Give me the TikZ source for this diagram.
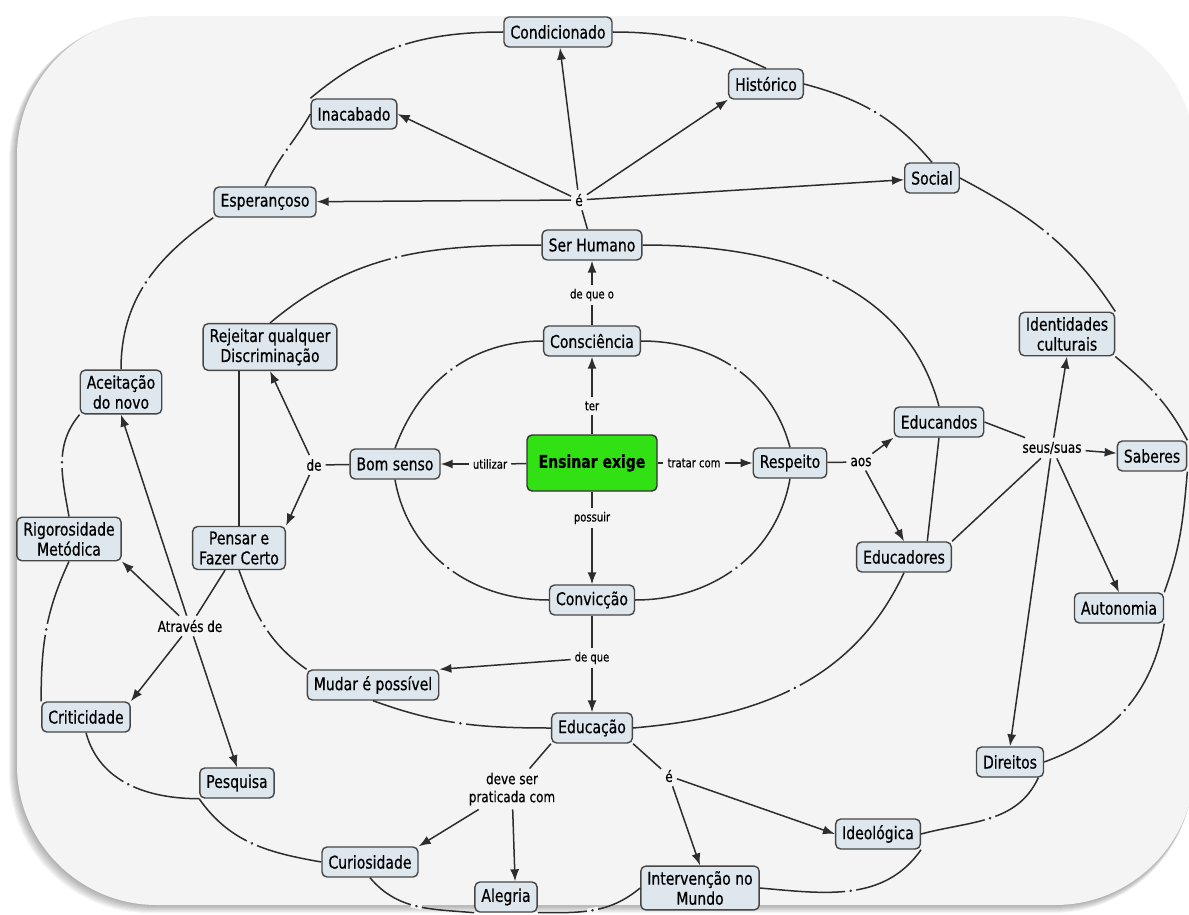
\documentclass[tikz,border=0pt]{standalone}
\usepackage{fontspec}
\setmainfont{DejaVu Sans}[FakeStretch=0.8,FakeBold=0.6]
\usetikzlibrary{arrows.meta}

\definecolor{panelbg}{RGB}{244,244,244}
\definecolor{conceptfill}{RGB}{221,231,237}
\definecolor{conceptline}{RGB}{70,70,70}
\definecolor{linecol}{RGB}{45,45,45}
\definecolor{mainfill}{RGB}{50,225,20}

\tikzset{
  concept/.style={draw=conceptline, fill=conceptfill, rounded corners=5pt, line width=1.4pt,
    inner xsep=6.5pt, inner ysep=5pt, minimum height=30pt, align=center,
    font=\fontsize{17.5}{20}\selectfont},
  mainconcept/.style={concept, fill=mainfill, draw=black!80, minimum width=130pt, minimum height=56pt,
    font=\fontsize{17.5}{20}\selectfont\bfseries},
  linklab/.style={inner sep=4pt, align=center, font=\fontsize{15}{18}\selectfont},
  smalllab/.style={inner sep=4pt, font=\fontsize{12.5}{15}\selectfont},
  lnk/.style={draw=linecol, line width=1.5pt},
  arr/.style={lnk, -{Latex[length=12pt,width=9pt]}},
  gapdot/.style={sloped, fill=panelbg, inner sep=0pt, minimum width=11pt, minimum height=5pt,
    path picture={\fill[linecol] (path picture bounding box.center) circle (1.4pt);}}
}

\begin{document}
\begin{tikzpicture}[x=1pt,y=1pt]
\useasboundingbox (0,0) rectangle (1189,-915);
\foreach \s in {1,...,8}
  \fill[black,opacity=0.045,rounded corners=140pt] (17-\s,-16-0.5*\s) rectangle (1195-0.3*\s,-905-\s);
\fill[panelbg,rounded corners=140pt] (17,-16) rectangle (1195,-905);

% conceitos
\node[concept] (cond) at (558,-32) {Condicionado};
\node[concept] (inac) at (354,-114) {Inacabado};
\node[concept] (hist) at (766,-84) {Histórico};
\node[concept] (esper) at (265,-202) {Esperançoso};
\node[concept] (social) at (932,-178) {Social};
\node[concept] (serh) at (592,-245) {Ser Humano};
\node[concept] (consc) at (592,-341) {Consciência};
\node[concept] (rej) at (270,-347) {Rejeitar qualquer\\Discriminação};
\node[concept] (ident) at (1067,-334) {Identidades\\culturais};
\node[concept] (aceit) at (121,-392) {Aceitação\\do novo};
\node[mainconcept] (ensinar) at (592,-463) {Ensinar exige};
\node[concept] (bom) at (395,-464) {Bom senso};
\node[concept] (resp) at (790,-463) {Respeito};
\node[concept] (educandos) at (939,-422) {Educandos};
\node[concept] (saberes) at (1152,-456) {Saberes};
\node[concept] (rig) at (69,-539) {Rigorosidade\\Metódica};
\node[concept] (pensar) at (239,-548) {Pensar e\\Fazer Certo};
\node[concept] (educadores) at (904,-557) {Educadores};
\node[concept] (auton) at (1119,-608) {Autonomia};
\node[concept] (conv) at (592,-600) {Convicção};
\node[concept] (mudar) at (373,-685) {Mudar é possível};
\node[concept] (crit) at (86,-717) {Criticidade};
\node[concept] (educ) at (592,-728) {Educação};
\node[concept] (direitos) at (1010,-762) {Direitos};
\node[concept] (pesq) at (237,-783) {Pesquisa};
\node[concept] (ideol) at (878,-834) {Ideológica};
\node[concept] (curios) at (370,-862) {Curiosidade};
\node[concept] (alegria) at (506,-897) {Alegria};
\node[concept] (interv) at (700,-888) {Intervenção no\\Mundo};

% frases de ligacao
\node[linklab] (e1) at (579,-200) {é};
\node[smalllab] (deqo) at (592,-295) {de que o};
\node[smalllab] (ter) at (592,-406) {ter};
\node[smalllab] (util) at (490,-464) {utilizar};
\node[smalllab] (tratar) at (694,-463) {tratar com};
\node[smalllab] (possuir) at (592,-518) {possuir};
\node[smalllab] (deque) at (592,-658) {de que};
\node[linklab] (de) at (314,-465) {de};
\node[linklab] (aos) at (861,-462) {aos};
\node[linklab] (seus) at (1052,-448) {seus/suas};
\node[linklab] (atraves) at (190,-626) {Através de};
\node[linklab] (deve) at (512,-789) {deve ser\\praticada com};
\node[linklab] (e2) at (669,-776) {é};

% ligacoes com seta
\draw[lnk] (ensinar) -- (ter);
\draw[arr] (ter) -- (consc);
\draw[lnk] (consc) -- (deqo);
\draw[arr] (deqo) -- (serh);
\draw[lnk] (ensinar) -- (util);
\draw[arr] (util) -- (bom);
\draw[lnk] (ensinar) -- (tratar);
\draw[arr] (tratar) -- (resp);
\draw[lnk] (ensinar) -- (possuir);
\draw[arr] (possuir) -- (conv);
\draw[lnk] (conv) -- (deque);
\draw[arr] (deque) -- (educ);
\draw[arr] (deque) -- (mudar.north east);
\draw[lnk] (serh) -- (e1);
\draw[arr] (e1) -- (esper);
\draw[arr] (e1) -- (inac.east);
\draw[arr] (e1) -- (cond);
\draw[arr] (e1) -- (hist.south west);
\draw[arr] (e1) -- (social);
\draw[lnk] (bom) -- (de);
\draw[arr] (de) -- (rej.south);
\draw[arr] (de) -- (pensar.north east);
\draw[lnk] (resp) -- (aos);
\draw[arr] (aos) -- (educandos.south west);
\draw[arr] (aos) -- (educadores.north);
\draw[lnk] (educandos.east) -- (seus);
\draw[lnk] (educadores.north east) -- (seus);
\draw[arr] (seus) -- (saberes);
\draw[arr] (seus) -- (ident.south);
\draw[arr] (seus) -- (auton.north);
\draw[arr] (seus) -- (direitos.north);
\draw[lnk] (pensar) -- (atraves);
\draw[arr] (atraves) -- (rig.south east);
\draw[arr] (atraves) -- (aceit.south);
\draw[arr] (atraves) -- (crit.north east);
\draw[arr] (atraves) -- (pesq.north);
\draw[lnk] (educ.south west) -- (deve);
\draw[arr] (deve) -- (curios.north east);
\draw[arr] (deve) -- (alegria.60);
\draw[lnk] (educ.south east) -- (e2);
\draw[arr] (e2) -- (ideol.west);
\draw[arr] (e2) -- (interv.north);

% aneis
\draw[lnk] (consc.west) to[out=180,in=70] node[gapdot]{} (bom.north);
\draw[lnk] (bom.south) to[out=-80,in=180] node[gapdot]{} (conv.west);
\draw[lnk] (consc.east) to[out=0,in=105] node[gapdot]{} (resp.north);
\draw[lnk] (resp.south) to[out=-100,in=0] node[gapdot]{} (conv.east);

\draw[lnk] (serh.west) to[out=180,in=40] node[gapdot]{} (rej.north);
\draw[lnk] (rej.south -| pensar.north) -- (pensar.north);
\draw[lnk] (pensar.south) to[out=-70,in=145] node[gapdot]{} (mudar.north west);
\draw[lnk] (mudar.south) to[out=-20,in=180] node[gapdot]{} (educ.west);
\draw[lnk] (educ.east) to[out=5,in=-115] node[gapdot]{} (educadores.south);
\draw[lnk] (educadores.34) -- (educandos.south);
\draw[lnk] (educandos.north) to[out=105,in=0] node[gapdot]{} (serh.east);

\draw[lnk] (cond.east) to[out=0,in=155] node[gapdot]{} (hist.north);
\draw[lnk] (hist.east) to[out=-15,in=130] node[gapdot]{} (social.north);
\draw[lnk] (social.east) to[out=-28,in=123] node[gapdot]{} (ident.north east);
\draw[lnk] (ident.south east) to[out=-40,in=118] node[gapdot]{} (saberes.north east);
\draw[lnk] (saberes.south east) to[out=-95,in=70] (auton.north east);
\draw[lnk] (auton.south east) to[out=-100,in=20] node[gapdot]{} (direitos.east);
\draw[lnk] (direitos.-29) to[out=-115,in=15] node[gapdot]{} (ideol.east);
\draw[lnk] (ideol.south east) to[out=-125,in=-5] node[gapdot]{} (interv.east);
\draw[lnk] (interv.west) to[out=-140,in=0] node[gapdot]{} (alegria.south east);
\draw[lnk] (alegria.south west) to[out=175,in=-50] node[gapdot]{} (curios.south);
\draw[lnk] (curios.west) to[out=170,in=-55] node[gapdot]{} (pesq.south west);
\draw[lnk] (pesq.south west) to[out=180,in=-75] node[gapdot]{} (crit.south);
\draw[lnk] (rig.south) to[out=-115,in=90] node[gapdot]{} (crit.north west);
\draw[lnk] (rig.north) to[out=100,in=-130] node[gapdot]{} (aceit.south west);
\draw[lnk] (aceit.north) to[out=90,in=-145] node[gapdot]{} (esper.south west);
\draw[lnk] (esper.north) to[out=65,in=-120] node[gapdot]{} (inac.west);
\draw[lnk] (inac.north west) to[out=40,in=180] node[gapdot]{} (cond.west);
\end{tikzpicture}
\end{document}
